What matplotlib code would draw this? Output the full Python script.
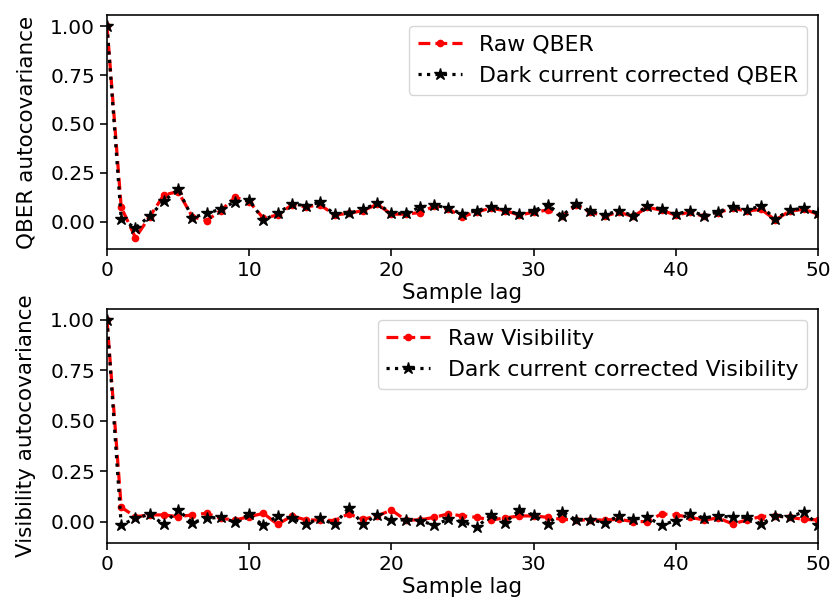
import numpy as np
import matplotlib
matplotlib.use('Agg')
import matplotlib.pyplot as plt

# autocovariance vs sample lag, 0..50
lags = np.arange(51)

raw_qber = [1.0, 0.075, -0.08, 0.027, 0.138, 0.155, 0.027, 0.007, 0.058, 0.126,
            0.104, 0.019, 0.036, 0.087, 0.078, 0.087, 0.036, 0.044, 0.058, 0.09,
            0.04, 0.04, 0.048, 0.08, 0.065, 0.027, 0.052, 0.07, 0.058, 0.035,
            0.05, 0.061, 0.03, 0.085, 0.05, 0.03, 0.05, 0.028, 0.075, 0.06,
            0.035, 0.05, 0.028, 0.048, 0.07, 0.055, 0.065, 0.01, 0.055, 0.065,
            0.04]
dark_qber = [1.0, 0.014, -0.03, 0.03, 0.107, 0.167, 0.022, 0.044, 0.065, 0.104,
             0.112, 0.01, 0.044, 0.092, 0.083, 0.1, 0.039, 0.044, 0.065, 0.095,
             0.044, 0.044, 0.075, 0.087, 0.07, 0.041, 0.058, 0.078, 0.061, 0.039,
             0.058, 0.087, 0.032, 0.092, 0.055, 0.036, 0.058, 0.032, 0.082, 0.065,
             0.039, 0.058, 0.032, 0.053, 0.078, 0.061, 0.082, 0.014, 0.061, 0.07,
             0.044]

raw_vis = [1.0, 0.073, 0.026, 0.035, 0.035, 0.026, 0.035, 0.043, 0.018, 0.01,
           0.026, 0.043, -0.012, 0.03, 0.01, 0.01, 0.007, 0.04, 0.013, 0.03,
           0.059, 0.01, 0.01, 0.023, 0.04, 0.03, 0.023, 0.01, 0.02, 0.03,
           0.03, 0.023, 0.013, 0.01, 0.01, 0.01, 0.013, 0.002, 0.002, 0.04,
           0.035, 0.023, 0.01, 0.02, -0.01, 0.01, 0.027, 0.03, 0.023, 0.013,
           0.01]
dark_vis = [1.0, -0.015, 0.018, 0.038, -0.012, 0.059, -0.003, 0.018, 0.023, 0.0,
            0.038, -0.017, 0.031, 0.018, -0.01, 0.018, -0.012, 0.07, -0.01, 0.035,
            0.01, 0.01, 0.007, -0.015, 0.013, 0.002, -0.026, 0.035, -0.003, 0.059,
            0.035, -0.01, 0.051, 0.01, 0.01, -0.003, 0.03, 0.013, 0.023, -0.015,
            0.007, 0.04, 0.02, 0.03, 0.023, 0.023, -0.01, 0.03, 0.023, 0.051,
            -0.015]

plt.rcParams['font.size'] = 15.5
plt.rcParams['xtick.labelsize'] = 14.5
plt.rcParams['ytick.labelsize'] = 14.5
plt.rcParams['legend.fontsize'] = 15.8
plt.rcParams['axes.linewidth'] = 1.16
plt.rcParams['xtick.major.width'] = 1.16
plt.rcParams['ytick.major.width'] = 1.16
plt.rcParams['xtick.major.size'] = 5
plt.rcParams['ytick.major.size'] = 5

fig = plt.figure(figsize=(8.34, 6.04), dpi=100)
ax1 = fig.add_axes([0.1283, 0.5877, 0.8525, 0.3874])
ax2 = fig.add_axes([0.1283, 0.1010, 0.8525, 0.3874])

lw = 2.3
ms = 9

ax1.plot(lags, raw_qber, 'r.--', lw=lw, ms=ms, label='Raw QBER')
ax1.plot(lags, dark_qber, 'k*:', lw=lw, ms=ms, label='Dark current corrected QBER')
ax1.set_xlim(0, 50)
ax1.set_ylim(-0.138, 1.056)
ax1.set_yticks([0.0, 0.25, 0.5, 0.75, 1.0])
ax1.set_xlabel('Sample lag', labelpad=2)
ax1.set_ylabel('QBER autocovariance', labelpad=10)
ax1.legend(loc='upper right')

ax2.plot(lags, raw_vis, 'r.--', lw=lw, ms=ms, label='Raw Visibility')
ax2.plot(lags, dark_vis, 'k*:', lw=lw, ms=ms, label='Dark current corrected Visibility')
ax2.set_xlim(0, 50)
ax2.set_ylim(-0.104, 1.054)
ax2.set_yticks([0.0, 0.25, 0.5, 0.75, 1.0])
ax2.set_xlabel('Sample lag', labelpad=2)
ax2.set_ylabel('Visibility autocovariance', labelpad=10)
ax2.legend(loc='upper right')

fig.savefig('out.png', dpi=100)
